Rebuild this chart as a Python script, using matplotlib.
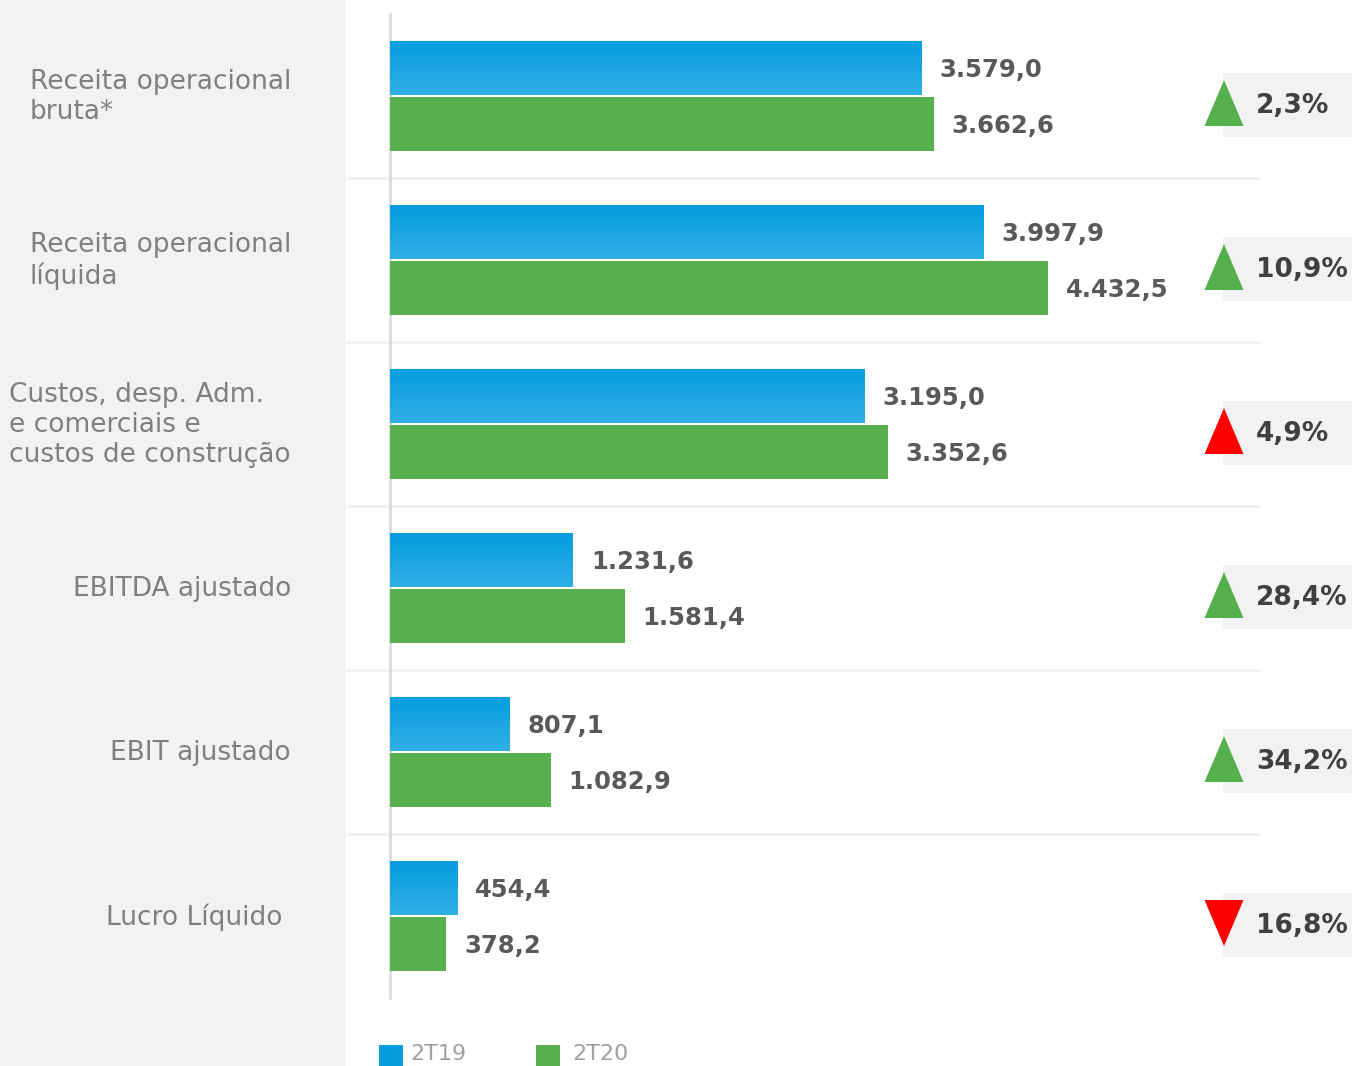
import matplotlib
matplotlib.use("Agg")
import matplotlib.pyplot as plt
import numpy as np
from matplotlib.patches import Rectangle, Polygon
from matplotlib.colors import LinearSegmentedColormap

# ---------------- data ----------------
categories = ["Receita operacional\nbruta*",
              "Receita operacional\nlíquida",
              "Custos, desp. Adm.\ne comerciais e\ncustos de construção",
              "EBITDA ajustado",
              "EBIT ajustado",
              "Lucro Líquido"]
values_2t19 = [3579.0, 3997.9, 3195.0, 1231.6, 807.1, 454.4]
values_2t20 = [3662.6, 4432.5, 3352.6, 1581.4, 1082.9, 378.2]
changes = ["2,3%", "10,9%", "4,9%", "28,4%", "34,2%", "16,8%"]
direction = ["up", "up", "up", "up", "up", "down"]
favorable = [True, True, False, True, True, False]
series_names = ["2T19", "2T20"]

# ---------------- style ----------------
W, H = 1352, 1066
BLUE_TOP = "#049ddf"
BLUE_BOT = "#30afe7"
GREEN = "#55b04d"
RED = "#ff0000"
PANEL = "#f2f2f2"
SEP = "#f0f0f0"
LABEL_C = "#7f7f7f"
VAL_C = "#595959"
PCT_C = "#404040"

X0 = 390.0          # pixel x of value 0
SCALE = 0.1484      # pixels per unit
Y0 = 96.0           # pixel y of first category centre
STEP = 164.0        # pixels between categories

fig = plt.figure(figsize=(W / 100, H / 100), dpi=100)
fig.patch.set_facecolor("white")

deco = fig.add_axes([0, 0, 1, 1], zorder=0)
deco.set_xlim(0, W)
deco.set_ylim(H, 0)
deco.axis("off")

ax = fig.add_axes([0, 0, 1, 1], zorder=2)
ax.patch.set_alpha(0)
ax.axis("off")

n = len(categories)
ypos = np.arange(n)

# left panel
deco.add_patch(Rectangle((0, 0), 346, H, facecolor=PANEL, edgecolor="none", zorder=0))

# separators
for i in range(n - 1):
    yp = Y0 + STEP * (i + 0.5)
    deco.plot([346, 1260], [yp, yp], color=SEP, lw=2.2, solid_capstyle="butt", zorder=1)

# axis line
ax.plot([0, 0], [-0.5, n - 0.5], color="#d9d9d9", lw=1.8, zorder=1)

bh = 0.33
off = 0.173
bars_b = ax.barh(ypos - off, values_2t19, height=bh, color=BLUE_TOP, zorder=3)
bars_g = ax.barh(ypos + off, values_2t20, height=bh, color=GREEN, zorder=3)

# gradient fill on blue bars
grad = np.linspace(0, 1, 64).reshape(-1, 1)
cmap = LinearSegmentedColormap.from_list("b", [BLUE_TOP, BLUE_BOT])
for p in bars_b:
    x, y = p.get_x(), p.get_y()
    w, h = p.get_width(), p.get_height()
    im = ax.imshow(grad, cmap=cmap, aspect="auto", extent=(x, x + w, y + h, y),
                   origin="upper", zorder=4, interpolation="bilinear")
    im.set_clip_path(p)
ax.set_xlim(-X0 / SCALE, (W - X0) / SCALE)
ax.set_ylim((H - Y0) / STEP, -Y0 / STEP)


def br(v):
    s = f"{v:,.1f}"
    return s.replace(",", "X").replace(".", ",").replace("X", ".")


lab_off = 18 / SCALE
dy = 2 / STEP
for i in range(n):
    ax.text(values_2t19[i] + lab_off, i - off + dy, br(values_2t19[i]), ha="left", va="center",
            fontsize=17.5, fontweight="bold", color=VAL_C, zorder=5)
    ax.text(values_2t20[i] + lab_off, i + off + dy, br(values_2t20[i]), ha="left", va="center",
            fontsize=17.5, fontweight="bold", color=VAL_C, zorder=5)

# category labels
for i, c in enumerate(categories):
    xr = 283 if i == n - 1 else 291
    deco.text(xr, Y0 + STEP * i + 1, c, ha="right", va="center", multialignment="left",
              fontsize=19, color=LABEL_C, linespacing=1.2, zorder=2)

# change boxes + triangles
for i in range(n):
    yc = Y0 + STEP * i + 9
    deco.add_patch(Rectangle((1223, yc - 32), W - 1223, 64, facecolor=PANEL,
                             edgecolor="none", zorder=1))
    col = GREEN if favorable[i] else RED
    tx, ty = 1224, yc - 2
    if direction[i] == "up":
        pts = [(tx - 19.5, ty + 23), (tx + 19.5, ty + 23), (tx, ty - 23)]
    else:
        pts = [(tx - 19.5, ty - 23), (tx + 19.5, ty - 23), (tx, ty + 23)]
    deco.add_patch(Polygon(pts, closed=True, facecolor=col, edgecolor="none", zorder=3))
    deco.text(1256, yc + 1, changes[i], ha="left", va="center", fontsize=19,
              fontweight="bold", color=PCT_C, zorder=4)

# legend
leg = [(379, BLUE_TOP, series_names[0], 31), (536, GREEN, series_names[1], 36)]
for x, col, name, gap in leg:
    deco.add_patch(Rectangle((x, 1045), 24, 24, facecolor=col, edgecolor="none", zorder=3))
    deco.text(x + gap, 1060, name, ha="left", va="baseline",
              fontsize=16, color="#a0a0a0", zorder=3)

fig.savefig("out.png", dpi=100, facecolor="white")
